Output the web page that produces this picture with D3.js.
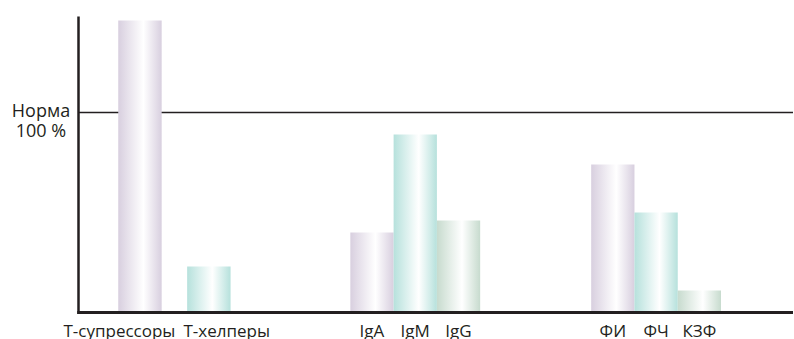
<!DOCTYPE html>
<html><head><meta charset="utf-8">
<script src="https://cdn.jsdelivr.net/npm/d3@7"></script>
<style>
html,body{margin:0;padding:0;background:#fff;}
svg{display:block;}
text{font-family:"Open Sans",sans-serif;fill:#231f20;}
</style></head>
<body>
<svg id="chart" width="794" height="339"></svg>
<script>
// ---- data ----
const groups = ["Т-лимфоциты", "Иммуноглобулины", "Фагоцитоз"];
const categories = ["Т-супрессоры", "Т-хелперы", "IgA", "IgM", "IgG", "ФИ", "ФЧ", "КЗФ"];
const categoryGroup = ["Т-лимфоциты", "Т-лимфоциты", "Иммуноглобулины", "Иммуноглобулины", "Иммуноглобулины", "Фагоцитоз", "Фагоцитоз", "Фагоцитоз"];
const values = [146, 23, 40, 89, 46, 74, 50, 11];       // % of norm
const colorKeys = ["lilac", "teal", "lilac", "teal", "sage", "lilac", "teal", "sage"];
const normValue = 100;
const normLabel = ["Норма", "100 %"];
const axisMax = 148;

// ---- layout ----
const axisX = 78.5, baseY = 312.5, normY = 112.5, rightX = 793;
const svg = d3.select("#chart");

const y = d3.scaleLinear().domain([0, normValue]).range([baseY, normY]);

const outer = d3.scaleBand().domain(groups).range([109.5, 721]).paddingInner(0.461).paddingOuter(0);
const innerPad = {"Т-лимфоциты": [0.37, 0.127], "Иммуноглобулины": [0, 0], "Фагоцитоз": [0, 0]};
const inner = {};
groups.forEach(g => {
  const cats = categories.filter((c, i) => categoryGroup[i] === g);
  inner[g] = d3.scaleBand().domain(cats).range([0, outer.bandwidth()])
    .paddingInner(innerPad[g][0]).paddingOuter(innerPad[g][1]);
});
const xLeft = (c, i) => outer(categoryGroup[i]) + inner[categoryGroup[i]](c);
const bw = (i) => inner[categoryGroup[i]].bandwidth();

// gradients
const palette = {lilac: "#d8cfdf", teal: "#b6e1dc", sage: "#c7dbce"};
const defs = svg.append("defs");
Object.entries(palette).forEach(([k, col]) => {
  const g = defs.append("linearGradient").attr("id", "grad-" + k)
    .attr("x1", "0%").attr("x2", "100%").attr("y1", "0%").attr("y2", "0%");
  g.append("stop").attr("offset", "0%").attr("stop-color", col);
  g.append("stop").attr("offset", "58%").attr("stop-color", "#ffffff");
  g.append("stop").attr("offset", "100%").attr("stop-color", col);
});

// norm line (behind bars)
svg.append("line").attr("x1", axisX).attr("x2", rightX)
  .attr("y1", y(normValue)).attr("y2", y(normValue))
  .attr("stroke", "#231f20").attr("stroke-width", 1.3);

// bars
svg.append("g").selectAll("rect").data(categories).join("rect")
  .attr("x", (c, i) => xLeft(c, i))
  .attr("width", (c, i) => bw(i))
  .attr("y", (c, i) => y(values[i]))
  .attr("height", (c, i) => y(0) - y(values[i]))
  .attr("fill", (c, i) => `url(#grad-${colorKeys[i]})`);

// axes
svg.append("line").attr("x1", axisX).attr("x2", axisX)
  .attr("y1", y(axisMax)).attr("y2", y(0) + 1.5)
  .attr("stroke", "#231f20").attr("stroke-width", 2.5);
svg.append("line").attr("x1", axisX - 1.25).attr("x2", rightX)
  .attr("y1", y(0)).attr("y2", y(0))
  .attr("stroke", "#231f20").attr("stroke-width", 3);

// norm label
svg.append("text").attr("x", 41).attr("y", y(normValue) + 4.5)
  .attr("text-anchor", "middle").attr("font-size", 18).text(normLabel[0]);
svg.append("text").attr("x", 41).attr("y", y(normValue) + 24.5)
  .attr("text-anchor", "middle").attr("font-size", 18).text(normLabel[1]);

// category labels: centred under bars, except the long T-cell labels which
// are split around the gap between their two bars
const tCats = inner["Т-лимфоциты"].domain();
const tMid = (xLeft(tCats[0], 0) + bw(0) + xLeft(tCats[1], 1)) / 2;
svg.append("g").selectAll("text").data(categories).join("text")
  .attr("y", 337).attr("font-size", 17)
  .attr("text-anchor", (c, i) => i === 0 ? "end" : i === 1 ? "start" : "middle")
  .attr("x", (c, i) => i === 0 ? tMid + 1 : i === 1 ? tMid + 9 : xLeft(c, i) + bw(i) / 2)
  .text(d => d);
</script>
</body></html>
